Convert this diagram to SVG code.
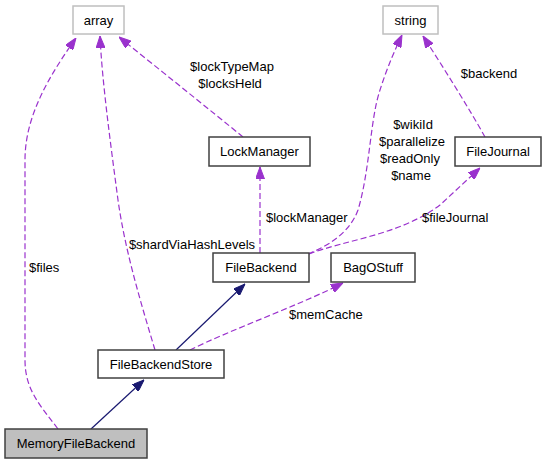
<svg xmlns="http://www.w3.org/2000/svg" width="547" height="464" viewBox="0 0 547 464">
<style>
text{font-family:"Liberation Sans",Arial,sans-serif;font-size:13px;fill:#000}
.n rect{fill:#fff;stroke:#404040;stroke-width:1.5}
.g rect{fill:#fff;stroke:#bfbfbf;stroke-width:1.5}
.u path{fill:none;stroke:#9a32cd;stroke-width:1.2;stroke-dasharray:6,3;marker-end:url(#pa)}
.i path{fill:none;stroke:#191970;stroke-width:1.2;marker-end:url(#na)}
.c{text-anchor:middle}
</style>
<defs>
<marker id="pa" viewBox="0 0 12 9" refX="12" refY="4.5" markerWidth="12" markerHeight="9" markerUnits="userSpaceOnUse" orient="auto"><path d="M0,0 L12,4.5 L0,9 Z" fill="#9a32cd" stroke="#9a32cd"/></marker>
<marker id="na" viewBox="0 0 12 9" refX="12" refY="4.5" markerWidth="12" markerHeight="9" markerUnits="userSpaceOnUse" orient="auto"><path d="M0,0 L12,4.5 L0,9 Z" fill="#191970" stroke="#191970"/></marker>
</defs>
<g id="connectors">
<g class="i">
<path d="M91,429 L144,380"/>
<path d="M176,350 L245,284"/>
</g>
<g class="u">
<path d="M58,429 C40,405 25,390 25,360 L25,160 C25,115 50,75 76,38"/>
<path d="M155,350 C140,300 125,250 118,200 C110,140 102,80 100,36"/>
<path d="M243,137 C210,110 160,70 119,37"/>
<path d="M260,253 L260,167"/>
<path d="M308,254 C330,245 350,232 358,210 C370,170 370,120 380,90 C388,65 395,50 402,35"/>
<path d="M485,137 C470,110 445,70 423,36"/>
<path d="M309,254 C345,240 400,235 440,205 L480,168"/>
<path d="M190,350 C230,330 300,305 343,283"/>
</g>
</g>
<g id="labels">
<text x="29" y="272">$files</text>
<text class="c" x="192" y="249">$shardViaHashLevels</text>
<text class="c" x="232" y="71">$lockTypeMap</text>
<text class="c" x="230" y="88">$locksHeld</text>
<text x="266" y="222">$lockManager</text>
<text class="c" x="413" y="129">$wikiId</text>
<text class="c" x="412" y="146">$parallelize</text>
<text class="c" x="410" y="163">$readOnly</text>
<text class="c" x="411" y="180">$name</text>
<text class="c" x="489" y="78">$backend</text>
<text x="422" y="222">$fileJournal</text>
<text x="289" y="319">$memCache</text>
</g>
<g id="array" class="g"><rect x="73" y="6" width="51" height="28"/><text class="c" x="98.5" y="25">array</text></g>
<g id="string" class="g"><rect x="383" y="6" width="55" height="28"/><text class="c" x="410.5" y="25">string</text></g>
<g id="LockManager" class="n"><rect x="209" y="137" width="101" height="29"/><text class="c" x="259.5" y="156">LockManager</text></g>
<g id="FileJournal" class="n"><rect x="455" y="137" width="86" height="29"/><text class="c" x="498" y="156">FileJournal</text></g>
<g id="FileBackend" class="n"><rect x="213" y="253" width="96" height="29"/><text class="c" x="261" y="272">FileBackend</text></g>
<g id="BagOStuff" class="n"><rect x="331" y="253" width="84" height="29"/><text class="c" x="373" y="272">BagOStuff</text></g>
<g id="FileBackendStore" class="n"><rect x="98" y="350" width="126" height="28"/><text class="c" x="161" y="369">FileBackendStore</text></g>
<g id="MemoryFileBackend" class="n"><rect x="5" y="429" width="142" height="29" style="fill:#bfbfbf"/><text class="c" x="76" y="448">MemoryFileBackend</text></g>
</svg>
